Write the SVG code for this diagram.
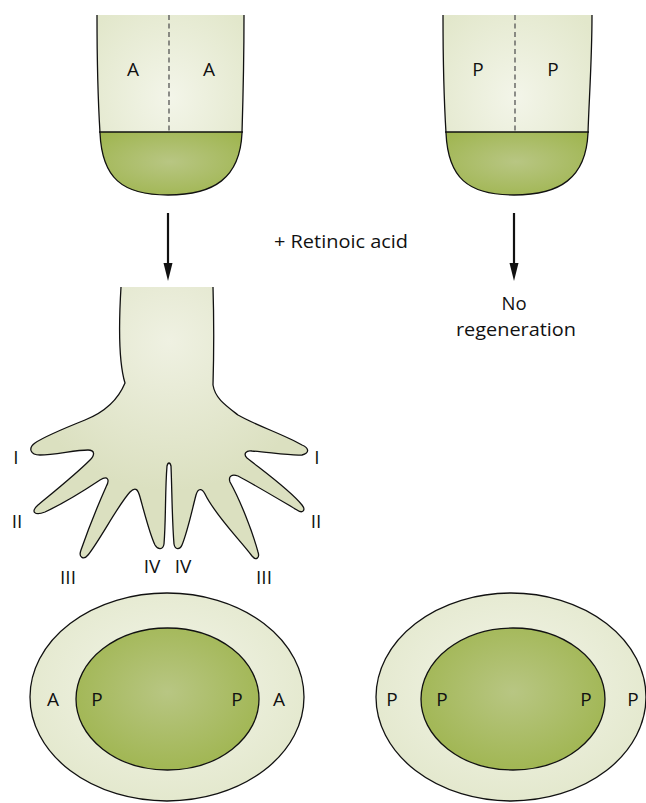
<svg xmlns="http://www.w3.org/2000/svg" width="646" height="803" viewBox="0 0 646 803">
  <style>
    .lbl { font-family: "Open Sans", "Liberation Sans", sans-serif; font-size: 19px; fill: #111; text-anchor: middle; }
    .txt { font-family: "Open Sans", "Liberation Sans", sans-serif; font-size: 18.5px; fill: #111; }
    .edge { fill: none; stroke: #111; stroke-width: 1.3; }
    .dash { stroke: #555; stroke-width: 1.3; stroke-dasharray: 5 3.5; }
  </style>
  <defs>
    <radialGradient id="pale" cx="0.5" cy="0.45" r="0.6">
      <stop offset="0" stop-color="#f3f5e9"/>
      <stop offset="1" stop-color="#e2e7cb"/>
    </radialGradient>
    <radialGradient id="green" cx="0.5" cy="0.45" r="0.6">
      <stop offset="0" stop-color="#b8c683"/>
      <stop offset="1" stop-color="#9fb54f"/>
    </radialGradient>
    <radialGradient id="handFill" cx="0.5" cy="0.2" r="0.55">
      <stop offset="0" stop-color="#eff1e2"/>
      <stop offset="1" stop-color="#dbe0c0"/>
    </radialGradient>
    <path id="arrowHead" d="M-4.5,-18 L4.5,-18 L0,0 Z" fill="#111"/>
    <clipPath id="stumpL">
      <path d="M97,15 C97,60 98,100 100,133 C102,178 122,195 168,195 C214,195 240,178 242,133 C243,100 244,60 244,15 Z"/>
    </clipPath>
    <clipPath id="stumpR">
      <path d="M443,15 C443,60 444,100 446,133 C448,178 468,195 514,195 C560,195 586,178 588,133 C589,100 592,60 592,15 Z"/>
    </clipPath>
  </defs>

  <!-- anterior half-stump, upper left -->
  <g id="stump-anterior">
    <rect x="90" y="15" width="160" height="182" fill="url(#pale)" clip-path="url(#stumpL)"/>
    <rect x="90" y="132" width="160" height="66" fill="url(#green)" clip-path="url(#stumpL)"/>
    <path class="edge" d="M97,15 C97,60 98,100 100,133 C102,178 122,195 168,195 C214,195 240,178 242,133 C243,100 244,60 244,15"/>
    <line class="edge" x1="99" y1="132" x2="243" y2="132"/>
    <line class="dash" x1="169" y1="15" x2="169" y2="132"/>
    <text class="lbl" x="133" y="76">A</text>
    <text class="lbl" x="209" y="76">A</text>
  </g>

  <!-- posterior half-stump, upper right -->
  <g id="stump-posterior">
    <rect x="436" y="15" width="160" height="182" fill="url(#pale)" clip-path="url(#stumpR)"/>
    <rect x="436" y="132" width="160" height="66" fill="url(#green)" clip-path="url(#stumpR)"/>
    <path class="edge" d="M443,15 C443,60 444,100 446,133 C448,178 468,195 514,195 C560,195 586,178 588,133 C589,100 592,60 592,15"/>
    <line class="edge" x1="445" y1="132" x2="589" y2="132"/>
    <line class="dash" x1="515" y1="15" x2="515" y2="132"/>
    <text class="lbl" x="478" y="76">P</text>
    <text class="lbl" x="553" y="76">P</text>
  </g>

  <!-- connectors -->
  <g id="connectors">
    <line x1="168" y1="213" x2="168" y2="266" stroke="#111" stroke-width="2.2"/>
    <use href="#arrowHead" x="168" y="281"/>
    <line x1="514" y1="213" x2="514" y2="266" stroke="#111" stroke-width="2.2"/>
    <use href="#arrowHead" x="514" y="281"/>
  </g>

  <g id="label-retinoic">
    <text class="txt" x="274" y="248" textLength="134" lengthAdjust="spacingAndGlyphs">+ Retinoic acid</text>
  </g>

  <g id="label-noregen">
    <text class="txt" x="514" y="310" text-anchor="middle">No</text>
    <text class="txt" x="516" y="336" text-anchor="middle" textLength="120" lengthAdjust="spacingAndGlyphs">regeneration</text>
  </g>

  <!-- regenerated double-anterior limb with mirrored digits -->
  <g id="hand">
    <path class="edge" style="fill:url(#handFill)" d="M121,287
      C119,320 118,360 125,383
      C118,400 105,412 85,420
      C65,428 45,436 35,443
      C28,448 30,455 40,455
      C55,455 75,450 88,450
      C95,450 95,455 90,460
      C75,475 50,495 38,505
      C30,512 35,516 45,512
      C60,505 85,490 100,480
      C108,475 110,480 106,487
      C98,505 88,530 81,550
      C78,558 84,560 88,555
      C100,540 118,505 130,492
      C136,486 138,490 140,497
      C145,515 150,535 155,545
      C158,550 163,550 164,544
      C166,520 165,490 167,466
      C168,462 170,462 171,466
      C172,490 172,520 174,544
      C175,550 180,550 182,545
      C188,530 192,510 196,495
      C198,488 202,488 205,494
      C215,515 240,540 252,556
      C256,561 260,558 258,552
      C252,530 240,500 230,482
      C228,476 232,474 238,476
      C255,485 280,500 297,510
      C303,514 306,510 302,505
      C290,490 262,470 247,458
      C243,454 246,450 252,451
      C268,452 290,456 302,455
      C310,453 309,448 302,445
      C285,435 255,425 238,415
      C225,405 215,398 213,385
      C214,350 214,320 213,287"/>
    <text class="lbl" x="16" y="464">I</text>
    <text class="lbl" x="17" y="528">II</text>
    <text class="lbl" x="68" y="584">III</text>
    <text class="lbl" x="152" y="573">IV</text>
    <text class="lbl" x="183" y="573">IV</text>
    <text class="lbl" x="264" y="584">III</text>
    <text class="lbl" x="316" y="528">II</text>
    <text class="lbl" x="317" y="464">I</text>
  </g>

  <!-- cross-section, double anterior -->
  <g id="section-anterior">
    <ellipse cx="167" cy="697" rx="137" ry="104" class="edge" style="fill:url(#pale)"/>
    <ellipse cx="167.5" cy="699" rx="91.5" ry="71" class="edge" style="fill:url(#green)"/>
    <text class="lbl" x="53" y="706">A</text>
    <text class="lbl" x="97" y="706">P</text>
    <text class="lbl" x="237" y="706">P</text>
    <text class="lbl" x="279" y="706">A</text>
  </g>

  <!-- cross-section, double posterior -->
  <g id="section-posterior">
    <ellipse cx="511" cy="697" rx="135" ry="104" class="edge" style="fill:url(#pale)"/>
    <ellipse cx="513" cy="699" rx="92" ry="71" class="edge" style="fill:url(#green)"/>
    <text class="lbl" x="392" y="706">P</text>
    <text class="lbl" x="442" y="706">P</text>
    <text class="lbl" x="586" y="706">P</text>
    <text class="lbl" x="633" y="706">P</text>
  </g>
</svg>
